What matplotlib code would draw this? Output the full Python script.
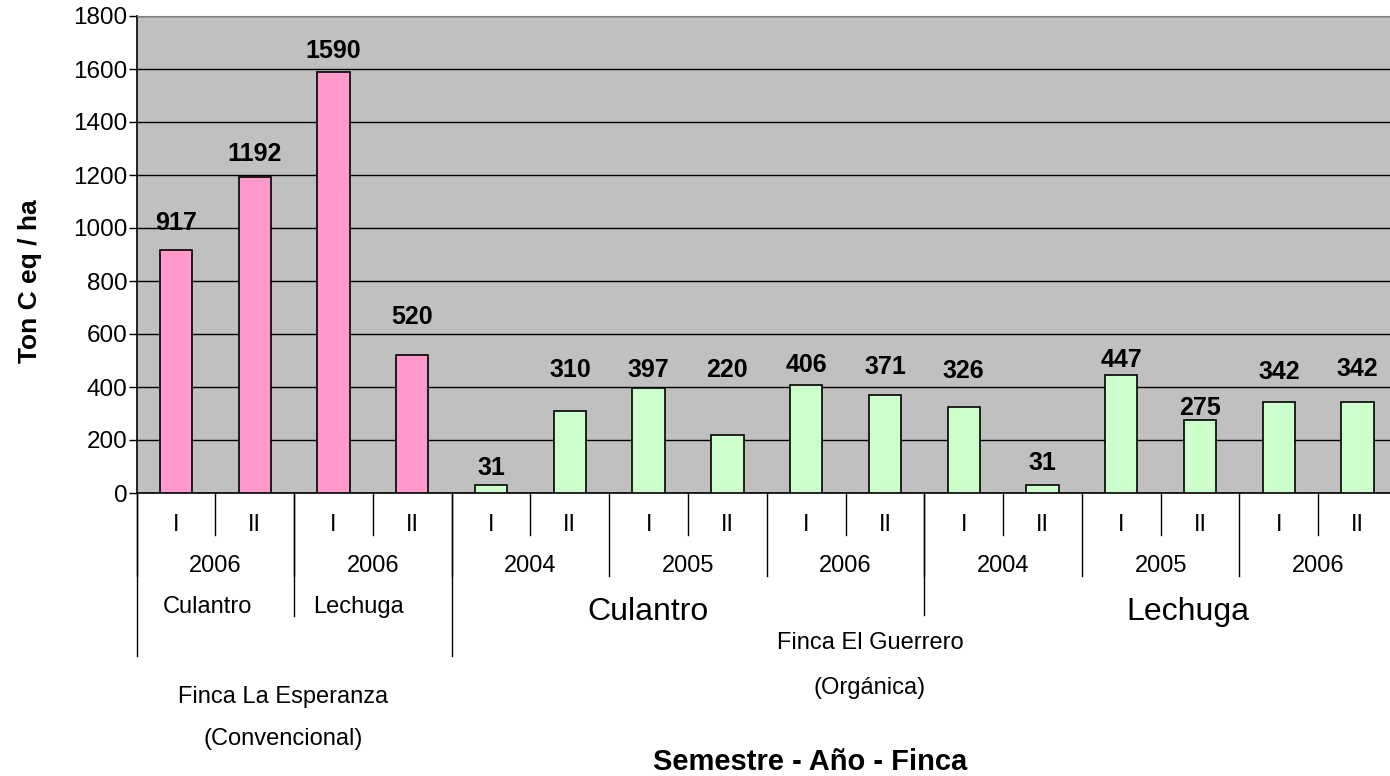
import matplotlib
matplotlib.use("Agg")
import matplotlib.pyplot as plt
import matplotlib.transforms as mtransforms

plt.rcParams['font.family'] = ['Liberation Sans', 'DejaVu Sans']

# ---------------- data ----------------
semesters = ["I", "II", "I", "II", "I", "II", "I", "II", "I", "II", "I", "II", "I", "II", "I", "II"]
values = [917, 1192, 1590, 520, 31, 310, 397, 220, 406, 371, 326, 31, 447, 275, 342, 342]
finca_group = ["Esperanza"] * 4 + ["Guerrero"] * 12
years = ["2006", "2006", "2004", "2005", "2006", "2004", "2005", "2006"]
small_crops = ["Culantro", "Lechuga"]
big_crops = ["Culantro", "Lechuga"]
fincas = [("Finca La Esperanza", "(Convencional)"), ("Finca El Guerrero", "(Orgánica)")]
yticks = [0, 200, 400, 600, 800, 1000, 1200, 1400, 1600, 1800]

# label placement (data units), as hand-placed in original
label_y = [1020, 1279, 1668, 664, 94, 464, 464, 464, 483, 475, 460, 113, 502, 321, 457, 468]

# ---------------- figure ----------------
W, H = 1390, 776
fig = plt.figure(figsize=(W / 100, H / 100), dpi=100)
ax_left, ax_right, ax_top, ax_bot = 136.6, 1397.0, 16.0, 493.0
ax = fig.add_axes([ax_left / W, 1 - ax_bot / H, (ax_right - ax_left) / W, (ax_bot - ax_top) / H])
ax.set_facecolor("#C0C0C0")

n = len(values)
xs = list(range(n))
colors = ["#FF99CC" if g == "Esperanza" else "#CCFFCC" for g in finca_group]
ax.bar(xs, values, width=0.41, color=colors, edgecolor="black", linewidth=1.2, zorder=3)

ax.set_xlim(-0.5, n - 0.5)
ax.set_ylim(0, 1800)
ax.set_yticks(yticks)
ax.set_yticklabels([str(t) for t in yticks], fontsize=17.5)
ax.tick_params(axis="y", direction="out", length=6, width=1, pad=0.5)
ax.set_xticks([])
ax.yaxis.grid(True, color="black", linewidth=1.0, zorder=1)
ax.set_axisbelow(True)
ax.spines["right"].set_visible(False)
ax.spines["top"].set_color("#808080")
ax.spines["left"].set_color("black")
ax.spines["bottom"].set_color("black")
ax.spines["left"].set_linewidth(1.2)
ax.spines["bottom"].set_linewidth(1.2)

for x, v, ly in zip(xs, values, label_y):
    ax.text(x, ly, str(v), ha="center", va="center", fontsize=18, fontweight="bold", zorder=4)

# ---------------- hierarchical category axis ----------------
trans = mtransforms.blended_transform_factory(ax.transData, ax.transAxes)
ph = ax_bot - ax_top


def yf(ypix):
    return (ax_bot - ypix) / ph


def vline(x, ybottom):
    ax.plot([x, x], [0, yf(ybottom)], transform=trans, color="black", lw=1.0, clip_on=False)


def txt(x, ypix, s, **kw):
    ax.text(x, yf(ypix), s, transform=trans, ha="center", va="center", clip_on=False, **kw)


SMALL = 17

# semester row
for i, s in enumerate(semesters):
    txt(i, 525, s, fontsize=SMALL)
for b in range(1, n, 2):
    vline(b - 0.5, 535)

# year row
for j, yv in enumerate(years):
    txt(2 * j + 0.5, 566, yv, fontsize=SMALL)
for b in range(0, n + 1, 2):
    vline(b - 0.5, 576)

# small crop row (Esperanza)
txt(0.40, 607, small_crops[0], fontsize=SMALL)
txt(2.32, 607, small_crops[1], fontsize=SMALL)
vline(1.5, 616)

# big crop row (Guerrero)
txt(5.99, 612, big_crops[0], fontsize=23)
txt(12.84, 612, big_crops[1], fontsize=23)
vline(9.5, 615)

# finca boundaries
vline(-0.5, 656)
vline(3.5, 656)

# finca labels
txt(1.36, 697, fincas[0][0], fontsize=SMALL)
txt(1.36, 739, fincas[0][1], fontsize=SMALL)
txt(8.81, 643, fincas[1][0], fontsize=SMALL)
txt(8.81, 688, fincas[1][1], fontsize=SMALL)

# axis titles
fig.text(810 / W, 1 - 762 / H, "Semestre - Año - Finca", ha="center", va="center",
         fontsize=21, fontweight="bold")
fig.text(30 / W, 1 - 281 / H, "Ton C eq / ha", ha="center", va="center", rotation=90,
         fontsize=19, fontweight="bold")

fig.savefig("out.png", dpi=100)
